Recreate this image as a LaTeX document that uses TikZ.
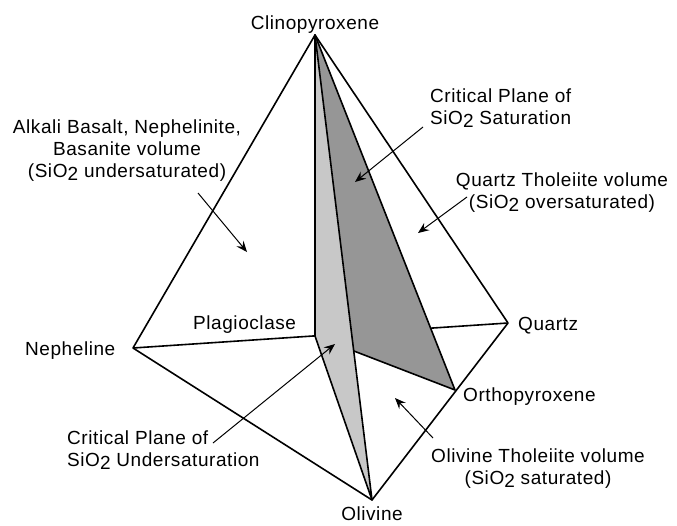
\documentclass[tikz,border=0pt]{standalone}
\usepackage{fontspec}
\setmainfont{Liberation Sans}[LetterSpace=3]
\usetikzlibrary{arrows.meta,positioning}

\newcommand{\siotwo}{SiO\raisebox{-0.18em}{2}}

\begin{document}
\begin{tikzpicture}[x=1pt, y=-1pt,
    edge/.style={black, line width=1.6pt, line join=round},
    pointer/.style={-{Stealth[length=11pt, width=9pt, inset=4pt]}, line width=1pt},
    lbl/.style={font=\fontsize{19}{22}\selectfont, inner sep=0pt}]
      \useasboundingbox (0,0) rectangle (677,525);

      % Corners of the tetrahedron
      \coordinate (cpx) at (315,35);
      \coordinate (ne) at (133,348);
      \coordinate (qz) at (508,323);
      \coordinate (ol) at (372,500);
      \coordinate (pl) at (315,336);
      \coordinate (opx) at (455,390);

      % Back edge
      \draw[edge] (ne) -- (qz);

      % Critical planes
      \draw[edge, fill={rgb,255:red,150;green,150;blue,150}] (cpx) -- (pl) -- (opx) -- cycle;
      \draw[edge, fill={rgb,255:red,200;green,200;blue,200}] (cpx) -- (pl) -- (ol) -- cycle;

      % Front edges
      \draw[edge] (ne) -- (cpx) -- (qz) -- (ol) -- cycle;

      % Corner labels
      \node[lbl, anchor=base] (cpx-l) at (315,29) {Clinopyroxene};
      \node[lbl, anchor=base west] (ne-l) at (25,355) {Nepheline};
      \node[lbl, anchor=base west] (pl-l) at (193,329) {Plagioclase};
      \node[lbl, anchor=base west] (qz-l) at (518,330) {Quartz};
      \node[lbl, anchor=base west] (opx-l) at (463,401) {Orthopyroxene};
      \node[lbl, anchor=base] (ol-l) at (372,520) {Olivine};

      % Volume and plane labels (base is the last line)
      \node[lbl, align=center, anchor=base] (alk) at (127,177)
        {Alkali Basalt, Nephelinite,\\Basanite volume\\(\siotwo{} undersaturated)};
      \node[lbl, align=left, anchor=base west] (sat) at (430,124)
        {Critical Plane of\\\siotwo{} Saturation};
      \node[lbl, align=center, anchor=base] (qzth) at (562,208)
        {Quartz Tholeiite volume\\(\siotwo{} oversaturated)};
      \node[lbl, align=left, anchor=base west] (usat) at (67,466)
        {Critical Plane of\\\siotwo{} Undersaturation};
      \node[lbl, align=center, anchor=base] (olth) at (538,484)
        {Olivine Tholeiite volume\\(\siotwo{} saturated)};

      % Pointers
      \coordinate (alk-s) at (198,193);   \coordinate (alk-e) at (247,252);
      \coordinate (sat-s) at (423,127);   \coordinate (sat-e) at (355,182);
      \coordinate (qzth-s) at (467,197);  \coordinate (qzth-e) at (418,233);
      \coordinate (usat-s) at (213,443);  \coordinate (usat-e) at (335,344);
      \coordinate (olth-s) at (433,438);  \coordinate (olth-e) at (395,398);
      \draw[pointer] (alk-s) -- (alk-e);
      \draw[pointer] (sat-s) -- (sat-e);
      \draw[pointer] (qzth-s) -- (qzth-e);
      \draw[pointer] (usat-s) -- (usat-e);
      \draw[pointer] (olth-s) -- (olth-e);
\end{tikzpicture}
\end{document}
